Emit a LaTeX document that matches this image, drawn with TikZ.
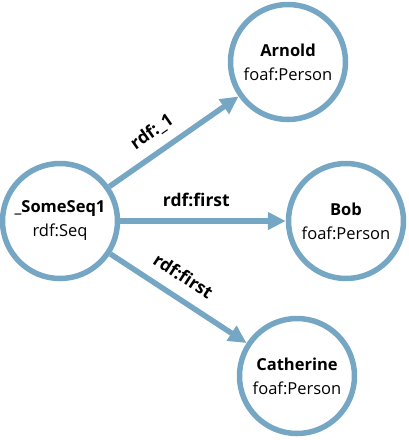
\documentclass[tikz,border=0pt]{standalone}
\usepackage{fontspec}
\setmainfont{Open Sans}
\usetikzlibrary{arrows.meta}

\begin{document}
\begin{tikzpicture}[x=1pt, y=-1pt,
  res/.style={circle, draw=linkblue, fill=white, line width=5.5pt, minimum size=115pt, inner sep=0pt, align=center, font=\fontsize{16.5}{24}\selectfont},
  link/.style={draw=linkblue, line width=5.5pt, -{Triangle[length=18pt, width=17pt]}},
  lbl/.style={font=\fontsize{17.5}{20}\selectfont\bfseries, sloped, anchor=base, yshift=15pt, inner sep=0pt}]
\definecolor{linkblue}{HTML}{75A6C3}
\useasboundingbox (0,0) rectangle (408,440);
\node[res] (seq) at (60,221) {\textbf{\_SomeSeq1}\\rdf:Seq};
\node[res] (arnold) at (288,62) {\textbf{Arnold}\\foaf:Person};
\node[res] (bob) at (346,221) {\textbf{Bob}\\foaf:Person};
\node[res] (cath) at (297,376) {\textbf{Catherine}\\foaf:Person};
\draw [link] (seq) -- (arnold) node[lbl, pos=.42]{rdf:\_1};
\draw [link] (seq) -- (bob) node[lbl, pos=.46]{rdf:first};
\draw [link] (seq) -- (cath) node[lbl, pos=.45]{rdf:first};
\end{tikzpicture}
\end{document}
